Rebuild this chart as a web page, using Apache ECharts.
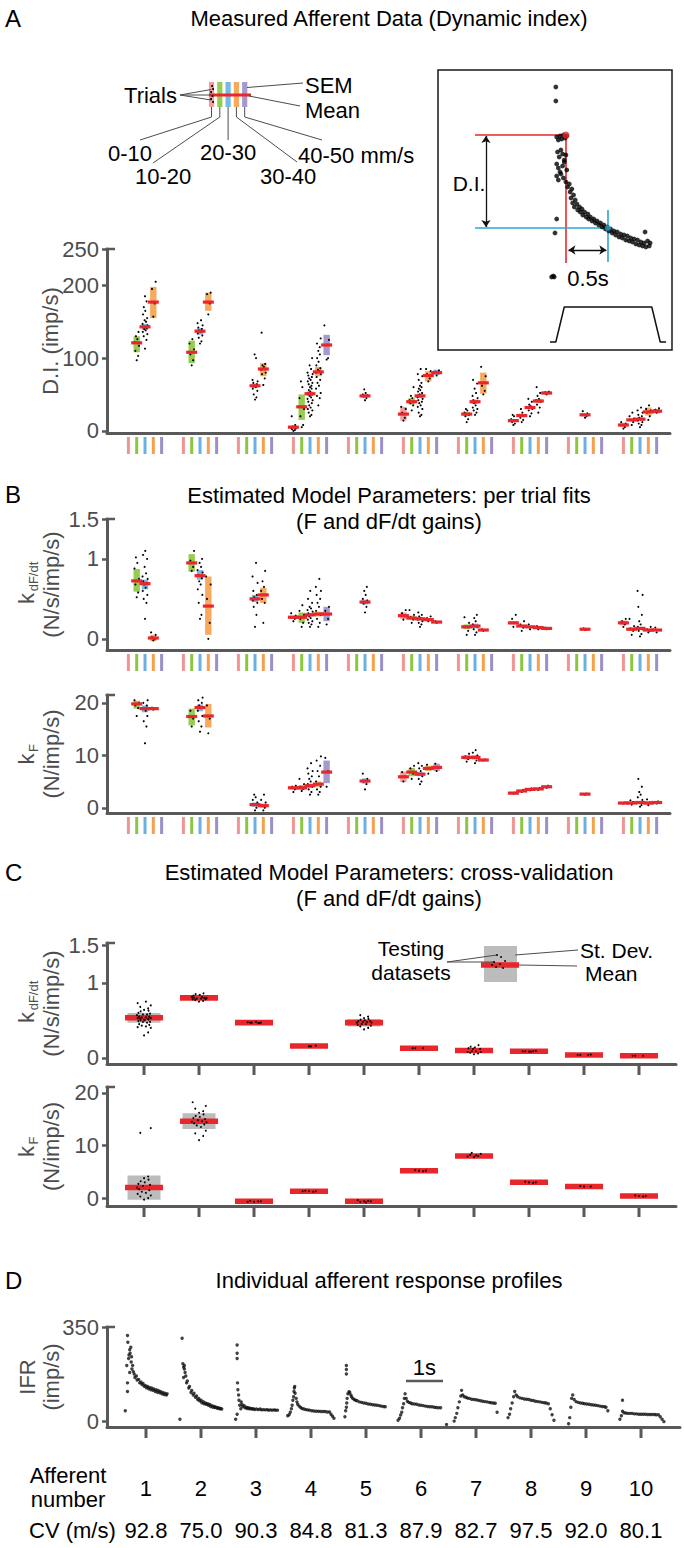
<!DOCTYPE html>
<html><head><meta charset="utf-8">
<script src="https://cdn.jsdelivr.net/npm/echarts@6/dist/echarts.min.js"></script>
<style>html,body{margin:0;padding:0;background:#fff}#c{width:684px;height:1548px}</style>
</head><body><div id="c"></div>
<script>
// ======================= DATA =======================
const afferents = [1,2,3,4,5,6,7,8,9,10];
const speedBins = ['0-10','10-20','20-30','30-40','40-50 mm/s'];
const cvValues = ['92.8','75.0','90.3','84.8','81.3','87.9','82.7','97.5','92.0','80.1'];

// Panel A – dynamic index: [afferent, speed bin, mean, SEM low, SEM high]
const diStats = [
 [1,1,121,108,130],[1,2,143,139,147],[1,3,177,155,198],
 [2,1,108,93,124],[2,2,137,132,141],[2,3,177,165,190],
 [3,2,62,59,65],[3,3,85,75,93],
 [4,0,5,3,7],[4,1,33,15,50],[4,2,51,48,54],[4,3,81,75,88],[4,4,118,104,132],
 [5,2,48,46,50],
 [6,0,23,14,33],[6,1,40,36,45],[6,2,48,45,51],[6,3,76,68,82],[6,4,80,77,84],
 [7,1,23,20,26],[7,2,40,37,43],[7,3,66,51,80],
 [8,0,14,12,16],[8,1,21,19,23],[8,2,32,30,34],[8,3,41,38,44],[8,4,52,50,54],
 [9,2,22,20,24],
 [10,0,8,5,11],[10,1,15,13,17],[10,2,16,14,18],[10,3,26,21,32],[10,4,27,24,30]
];
const diTrials = [
 [97,103,110,117,122,126,130,136],
 [113,125,130,133,136,138,140,141,143,145,147,150,152,155,160,165,170,178,185],
 [157,175,195,205],
 [90,97,105,112,120,126],
 [120,123,128,131,134,136,138,140,142,145,148,152],
 [160,175,188,190],
 [43,46,50,55,58,60,62,64,66,68,70,100,105],
 [63,72,78,80,84,88,90,92,135],
 [0,1,2,3,4,5,6,8,20],
 [5,8,20,30,45,60,68],
 [20,22,25,28,30,32,35,38,40,42,44,46,48,50,52,54,56,58,60,62,64,66,68,70,72,74,76,78,80,85,90,100],
 [35,45,48,52,58,62,66,70,74,78,80,82,84,86,90,95,100,105,110,115,120,127],
 [98,100,118,125,145],
 [42,45,47,49,50,52,57],
 [14,18,25,30,33],
 [28,35,38,40,42,45,48,60],
 [20,22,25,30,33,35,38,40,42,44,46,48,50,52,54,56,58,60,62,66,70,75,78,85],
 [68,72,78,82,85],
 [76,79,81,83],
 [12,16,20,22,25,28,30],
 [22,25,28,30,32,35,38,40,42,45,48,52,58,65,70],
 [50,55,62,75,88],
 [8,10,12,14,16,20,22],
 [12,15,18,20,22,25,30],
 [20,24,28,30,32,34,36,40,44],
 [25,32,36,40,42,44,48,52,60],
 [50,52,53,54],
 [18,20,22,24,27],
 [3,5,8,10,12],
 [8,12,15,17,20,25],
 [5,8,10,12,14,16,18,20,22,25,28,32],
 [15,20,25,28,30,35],
 [25,27,29,31]
];

// Panel B (top) – k dF/dt per-trial fits
const kdStats = [
 [1,1,0.725,0.59,0.875],[1,2,0.69,0.62,0.74],[1,3,0.01,-0.03,0.05],
 [2,1,0.95,0.84,1.06],[2,2,0.79,0.74,0.86],[2,3,0.41,0.05,0.78],
 [3,2,0.50,0.46,0.55],[3,3,0.55,0.45,0.64],
 [4,0,0.27,0.25,0.29],[4,1,0.27,0.20,0.33],[4,2,0.30,0.28,0.32],[4,3,0.31,0.28,0.34],[4,4,0.31,0.22,0.40],
 [5,2,0.46,0.43,0.49],
 [6,0,0.29,0.25,0.33],[6,1,0.26,0.24,0.29],[6,2,0.25,0.23,0.27],[6,3,0.24,0.23,0.25],[6,4,0.21,0.20,0.22],
 [7,1,0.15,0.12,0.18],[7,2,0.16,0.13,0.19],[7,3,0.11,0.10,0.12],
 [8,0,0.20,0.18,0.22],[8,1,0.16,0.15,0.17],[8,2,0.15,0.14,0.16],[8,3,0.14,0.13,0.15],[8,4,0.13,0.12,0.14],
 [9,2,0.12,0.11,0.13],
 [10,0,0.20,0.17,0.23],[10,1,0.12,0.10,0.14],[10,2,0.13,0.11,0.15],[10,3,0.11,0.10,0.12],[10,4,0.11,0.10,0.12]
];
const kdTrials = [
 [0.52,0.58,0.68,0.75,0.88,0.95,1.02],
 [0.25,0.45,0.5,0.55,0.6,0.64,0.68,0.7,0.72,0.75,0.78,0.82,0.9,1.0,1.05,1.1],
 [-0.02,0.0,0.02,0.05,0.08],
 [0.85,0.9,0.98,1.1],
 [0.25,0.3,0.45,0.55,0.62,0.68,0.72,0.76,0.8,0.83,0.86,0.9,0.95,1.0],
 [0.0,0.2,0.5,0.68,0.78],
 [0.15,0.3,0.4,0.45,0.48,0.5,0.52,0.55,0.6,0.7,0.78,0.95],
 [0.2,0.45,0.5,0.55,0.6,0.65,0.72,0.85],
 [0.22,0.25,0.27,0.29,0.32],
 [0.15,0.2,0.25,0.3,0.35,0.42],
 [0.15,0.18,0.2,0.22,0.24,0.26,0.28,0.3,0.32,0.34,0.36,0.38,0.4,0.45,0.5,0.6],
 [0.15,0.2,0.25,0.3,0.35,0.4,0.45,0.5,0.55,0.6,0.65,0.75],
 [0.18,0.25,0.35,0.4],
 [0.33,0.4,0.44,0.48,0.5,0.55,0.6,0.65],
 [0.24,0.28,0.32,0.36],
 [0.2,0.24,0.27,0.3,0.36],
 [0.15,0.18,0.2,0.22,0.24,0.26,0.28,0.3,0.33],
 [0.22,0.24,0.26,0.28],
 [0.2,0.21,0.22],
 [0.05,0.1,0.15,0.2,0.27],
 [0.05,0.08,0.12,0.15,0.18,0.22,0.26,0.3],
 [0.1,0.11,0.12],
 [0.15,0.2,0.25,0.3],
 [0.1,0.14,0.18,0.22],
 [0.12,0.15,0.18],
 [0.12,0.14,0.16],
 [0.12,0.13,0.14],
 [0.11,0.12,0.13],
 [0.15,0.18,0.22,0.25],
 [0.05,0.1,0.13,0.16,0.25],
 [0.03,0.06,0.1,0.12,0.15,0.18,0.22,0.3,0.4,0.55,0.6],
 [0.08,0.1,0.12,0.15],
 [0.08,0.11,0.14]
];

// Panel B (bottom) – k F per-trial fits
const kfStats = [
 [1,1,19.8,18.9,20.4],[1,2,18.9,18.2,19.5],[1,3,18.9,18.8,19.0],
 [2,1,17.4,15.7,18.9],[2,2,19.1,18.4,19.7],[2,3,17.5,15.3,19.8],
 [3,2,0.6,0.2,1.0],[3,3,0.4,0.0,0.8],
 [4,0,3.8,3.5,4.1],[4,1,3.8,3.4,4.3],[4,2,4.2,3.8,4.6],[4,3,4.5,4.0,5.0],[4,4,6.8,4.7,9.0],
 [5,2,5.1,4.6,5.6],
 [6,0,5.9,4.9,6.9],[6,1,6.8,6.0,7.6],[6,2,6.4,6.0,6.8],[6,3,7.5,7.0,8.0],[6,4,7.7,7.0,8.4],
 [7,1,9.6,9.2,10.0],[7,2,9.6,9.2,10.0],[7,3,9.1,9.0,9.2],
 [8,0,2.8,2.7,2.9],[8,1,3.2,3.1,3.3],[8,2,3.5,3.4,3.6],[8,3,3.6,3.5,3.7],[8,4,4.0,3.9,4.1],
 [9,2,2.6,2.5,2.7],
 [10,0,0.9,0.8,1.0],[10,1,0.9,0.7,1.1],[10,2,1.0,0.7,1.3],[10,3,0.9,0.6,1.2],[10,4,1.0,0.8,1.2]
];
const kfTrials = [
 [17.5,19,19.5,20,20.5],
 [12.3,15.5,16.5,17.5,18,18.5,19,19.5,20,20.5],
 [18.7,18.9,19.1],
 [15.5,17,18.5],
 [14.5,15.5,16.5,17.5,18.5,19,19.5,20,20.5,21],
 [14.2,17,19.5],
 [-0.5,0,0.5,1,1.5,2,2.5],
 [-0.5,0,0.5,1,1.5,2.5],
 [3,3.5,4,4.2],
 [3.2,3.6,4,4.5,5.5],
 [2.5,3,3.5,4,4.5,5,5.5,6,6.5,7,7.5,8.5],
 [2.5,3,3.5,4,5,6,7,8,9,9.8],
 [4,7,9.5],
 [3.5,4.5,5,5.5,6.5],
 [5,6,6.8],
 [5.5,6.5,7.5,8],
 [4.5,5,5.5,6,6.5,7,7.5,8,8.5],
 [6.5,7.5,8.2],
 [7,7.7,8.4],
 [8.8,9.3,9.8,10.3],
 [8.5,9,9.5,10,10.5,11],
 [9,9.2],
 [2.7,2.9],[3,3.4],[3.3,3.7],[3.4,3.8],[3.8,4.2],
 [2.5,2.7],
 [0.8,1.0],[0.6,1.1,1.4],[0.2,0.5,1,1.5,2,2.5,3,4,5.5],[0.5,1,1.6],[0.8,1.2]
];

// Panel C – cross-validation (mean, SD, testing datasets)
const cvKdMean = [0.535,0.80,0.47,0.16,0.47,0.13,0.10,0.09,0.04,0.03];
const cvKdSd   = [0.065,0.03,0.01,0.01,0.05,0.01,0.02,0.01,0.01,0.01];
const cvKdTests = [
 [0.30,0.34,0.37,0.40,0.41,0.42,0.43,0.44,0.45,0.46,0.46,0.47,0.48,0.48,0.49,0.50,0.50,0.51,0.51,0.52,0.52,0.53,0.53,0.54,0.54,0.55,0.55,0.56,0.57,0.58,0.58,0.59,0.60,0.61,0.62,0.63,0.64,0.66,0.68,0.70,0.73,0.75],
 [0.75,0.76,0.77,0.78,0.78,0.79,0.79,0.80,0.80,0.80,0.81,0.81,0.82,0.82,0.83,0.84,0.85,0.86],
 [0.46,0.465,0.47,0.47,0.475,0.48,0.47,0.465],
 [0.155,0.16,0.16,0.165,0.16,0.155,0.16],
 [0.38,0.40,0.42,0.43,0.44,0.45,0.45,0.46,0.46,0.47,0.47,0.48,0.48,0.49,0.49,0.50,0.51,0.52,0.53,0.55,0.57],
 [0.125,0.13,0.13,0.135,0.13,0.125],
 [0.05,0.06,0.07,0.08,0.08,0.09,0.09,0.10,0.10,0.10,0.11,0.11,0.12,0.12,0.13,0.14,0.15,0.17],
 [0.085,0.09,0.09,0.095,0.09,0.085],
 [0.035,0.04,0.04,0.045,0.04,0.035],
 [0.025,0.03,0.03,0.035,0.03,0.025]
];
const cvKfMean = [2.0,14.6,-0.6,1.3,-0.6,5.2,8.0,3.0,2.2,0.4];
const cvKfSd   = [2.3,1.5,0.1,0.1,0.1,0.1,0.2,0.1,0.1,0.1];
const cvKfTests = [
 [-0.3,0.0,0.3,0.5,0.8,1.0,1.2,1.5,1.7,1.9,2.0,2.1,2.3,2.5,2.7,3.0,3.2,3.5,3.8,4.1,12.4,13.3],
 [11.0,11.8,12.3,12.8,13.2,13.5,13.8,14.0,14.2,14.4,14.5,14.6,14.8,15.0,15.2,15.4,15.6,15.9,16.2,16.5,17.0,17.5,18.2],
 [-0.7,-0.6,-0.5,-0.6,-0.7],
 [1.3,1.2,1.4,1.3,1.3],
 [-0.6,-0.5,-0.7,-0.6,-0.4,-0.8],
 [5.2,5.1,5.3,5.2],
 [7.8,8.0,8.2,8.4,7.9,8.1,8.6],
 [3.0,2.9,3.1,3.0],
 [2.2,2.1,2.3,2.2],
 [0.4,0.3,0.5,0.4]
];

// Panel D – IFR profiles: [time (s) relative to afferent slot centre, IFR (imp/s)]
const ifrProfiles = [
 [[-0.56,39],[-0.50,111],[-0.50,143],[-0.50,320],[-0.49,295],[-0.52,208],[-0.47,234],[-0.44,267],[-0.41,276],[-0.46,247],[-0.40,221],[-0.38,195],[-0.44,182],[-0.43,254],[-0.39,241],[-0.36,208],[-0.34,185],[-0.32,176],[-0.30,163],[-0.26,169],[-0.24,154],[-0.20,156],[-0.17,143],[-0.14,146],[-0.11,137],[-0.08,141],[-0.05,130],[-0.02,133],[0.01,125],[0.04,130],[0.07,121],[0.09,126],[0.13,117],[0.15,124],[0.19,115],[0.21,120],[0.25,111],[0.27,117],[0.31,108],[0.33,115],[0.37,106],[0.39,111],[0.43,102],[0.45,107],[0.49,99],[0.51,104],[0.55,98],[0.57,102]],
 [[-0.57,7],[-0.51,310],[-0.49,215],[-0.47,202],[-0.45,195],[-0.45,208],[-0.43,182],[-0.47,163],[-0.39,143],[-0.41,169],[-0.37,150],[-0.33,124],[-0.31,130],[-0.27,107],[-0.25,115],[-0.21,98],[-0.19,104],[-0.15,89],[-0.12,94],[-0.09,81],[-0.06,85],[-0.04,76],[0.00,78],[0.02,69],[0.06,73],[0.08,65],[0.12,68],[0.14,63],[0.18,65],[0.20,59],[0.24,62],[0.26,55],[0.30,58],[0.32,52],[0.36,55],[0.38,51],[0.41,52],[0.44,48],[0.47,50],[0.50,46],[0.53,47],[0.56,45]],
 [[-0.55,7],[-0.51,285],[-0.51,254],[-0.51,234],[-0.50,143],[-0.49,117],[-0.47,98],[-0.46,78],[-0.44,59],[-0.41,46],[-0.51,26],[-0.40,72],[-0.38,63],[-0.36,55],[-0.32,58],[-0.30,50],[-0.26,52],[-0.24,47],[-0.20,50],[-0.18,46],[-0.14,47],[-0.11,45],[-0.07,46],[-0.04,43],[0.01,45],[0.06,43],[0.11,45],[0.15,42],[0.20,43],[0.25,42],[0.30,43],[0.34,41],[0.39,42],[0.44,41],[0.49,42],[0.53,41],[0.58,41]],
 [[-0.63,20],[-0.59,24],[-0.56,33],[-0.53,46],[-0.51,59],[-0.49,78],[-0.47,91],[-0.46,111],[-0.45,124],[-0.44,130],[-0.43,104],[-0.40,85],[-0.38,72],[-0.36,63],[-0.32,56],[-0.28,51],[-0.24,47],[-0.19,45],[-0.14,43],[-0.09,42],[-0.04,41],[0.02,39],[0.08,38],[0.14,37],[0.20,37],[0.26,36],[0.32,36],[0.38,36],[0.44,34],[0.50,34],[0.54,26],[0.58,18],[0.62,11]],
 [[-0.57,16],[-0.53,208],[-0.53,193],[-0.53,176],[-0.55,39],[-0.53,52],[-0.52,68],[-0.51,85],[-0.49,102],[-0.46,110],[-0.44,107],[-0.41,98],[-0.39,91],[-0.36,85],[-0.32,81],[-0.28,78],[-0.24,76],[-0.18,72],[-0.12,70],[-0.06,68],[0.00,67],[0.06,64],[0.12,63],[0.18,61],[0.24,60],[0.30,59],[0.36,58],[0.41,56],[0.47,55],[0.52,54]],
 [[-0.62,3],[-0.58,11],[-0.55,23],[-0.52,33],[-0.50,50],[-0.47,65],[-0.45,85],[-0.43,102],[-0.40,85],[-0.37,74],[-0.33,70],[-0.28,68],[-0.24,65],[-0.18,64],[-0.12,63],[-0.06,60],[0.00,59],[0.06,58],[0.12,56],[0.18,55],[0.24,54],[0.30,54],[0.36,52],[0.41,51],[0.47,50],[0.53,50],[0.69,-13]],
 [[-0.59,0],[-0.56,13],[-0.52,29],[-0.49,50],[-0.45,72],[-0.41,94],[-0.39,115],[-0.36,98],[-0.32,91],[-0.27,89],[-0.23,86],[-0.18,85],[-0.12,82],[-0.06,81],[0.00,80],[0.06,78],[0.12,76],[0.18,74],[0.24,73],[0.30,72],[0.36,70],[0.41,69],[0.47,68],[0.52,67],[0.57,33]],
 [[-0.62,13],[-0.58,26],[-0.55,46],[-0.51,68],[-0.47,91],[-0.44,111],[-0.40,98],[-0.36,91],[-0.30,87],[-0.24,85],[-0.18,83],[-0.12,82],[-0.06,81],[0.00,78],[0.06,77],[0.12,74],[0.18,73],[0.24,72],[0.30,70],[0.36,69],[0.41,68],[0.47,65],[0.52,46],[0.57,24],[0.62,3]],
 [[-0.47,-10],[-0.44,13],[-0.41,52],[-0.39,85],[-0.36,98],[-0.32,81],[-0.27,73],[-0.21,70],[-0.15,68],[-0.09,67],[-0.04,65],[0.02,64],[0.08,63],[0.14,61],[0.20,60],[0.26,59],[0.32,58],[0.38,56],[0.44,55],[0.50,54],[0.54,52],[0.59,39]],
 [[-0.57,7],[-0.53,20],[-0.50,78],[-0.50,37],[-0.46,31],[-0.41,30],[-0.36,29],[-0.30,29],[-0.24,29],[-0.18,27],[-0.12,27],[-0.06,26],[0.00,26],[0.06,26],[0.12,26],[0.18,25],[0.24,25],[0.30,25],[0.36,25],[0.41,24],[0.47,24],[0.52,16],[0.57,7],[0.62,-2]]
];

// Inset (panel A) – example response: [time from ramp end (s), IFR]
const insetTrace = [
 [-0.12,263],[-0.12,249],
 [-0.11,213],[-0.09,210],[-0.07,214],[-0.05,211],[-0.03,215],[-0.01,212],[0.01,214],
 [-0.10,198],[-0.08,193],[-0.06,200],[-0.04,196],[-0.02,190],[0.00,195],
 [-0.11,186],[-0.09,182],[-0.07,178],[-0.04,184],[-0.02,188],[0.01,180],
 [-0.11,174],[-0.09,170],[-0.06,176],[-0.03,172],[0.00,168],[0.02,163],
 [0.04,166],[0.05,158],[0.06,152],[0.07,161],[0.08,147],[0.09,155],[0.10,143],[0.11,150],[0.13,146],[0.14,140],[0.16,143],[0.17,138],[0.19,141],[0.20,135],[0.22,138],[0.24,133],[0.26,136],[0.27,131],[0.29,133],[0.31,129],[0.33,131],[0.35,127],[0.37,129],[0.39,125],[0.41,127],[0.43,123],[0.45,125],[0.47,121],[0.49,123],[0.51,119],[0.53,121],[0.55,117],[0.57,119],[0.59,115],[0.61,118],[0.63,113],[0.65,116],[0.67,112],[0.69,115],[0.71,110],[0.73,114],[0.75,109],[0.77,112],[0.79,108],[0.81,111],[0.83,106],[0.85,110],[0.87,105],[0.89,108],[0.91,104],[0.93,107],[0.95,103],[0.97,109],[0.99,104],[1.00,107],[0.94,118],
 [-0.11,131],[-0.13,117],[-0.17,73],[-0.15,74],[-0.14,73]
];
const insetStimulus = [[-0.19,8],[-0.12,8],[-0.02,43],[1.02,43],[1.12,8],[1.19,8]];
const insetPeak = 215;      // IFR at ramp end (red)
const insetPlateau = 122;   // IFR 0.5 s later (blue)
const insetDelay = 0.5;     // s

// ======================= STYLE / LAYOUT =======================
const FONT = '"Liberation Sans", Arial, Helvetica, sans-serif';
const FS = 22;
const BIN_COLORS = ['#f19494','#8cc63f','#6cb0e2','#f6a04d','#9c8fc8'];
const MEAN_RED = '#e8262b';
const AXIS_GRAY = '#595959';
const TEXT_GRAY = '#4d4d4d';
const SD_GRAY = '#bcbcbc';
const BIN_STEP = 0.151;           // spacing of speed bins (afferent units)
const SEC = 37 / 55;              // afferent units per second in panel D
const JITTER = [0,0.55,-0.5,0.9,-0.85,0.25,-0.3,0.7,-0.65,1,-0.95,0.4,-0.15,0.8,-0.75,0.1,-0.45,0.6];
const TITLE_X = 389;

const G = {
 inset:{left:438, top:70, width:234, height:280, xMin:-1.52, xMax:1.26, yMin:0, yMax:280, ticks:[]},
 A:  {left:107, top:249, width:563, height:184, xMin:0.309, xMax:10.545, yMin:-3, yMax:250, ticks:[0,100,200,250]},
 B1: {left:107, top:519, width:563, height:131, xMin:0.309, xMax:10.545, yMin:-0.14, yMax:1.5, ticks:[0,1,1.5]},
 B2: {left:107, top:695, width:563, height:118, xMin:0.309, xMax:10.545, yMin:-1, yMax:21.5, ticks:[0,10,20]},
 C1: {left:107, top:943, width:569, height:121, xMin:0.327, xMax:10.673, yMin:-0.08, yMax:1.53, ticks:[0,1,1.5]},
 C2: {left:107, top:1087, width:569, height:119, xMin:0.327, xMax:10.673, yMin:-1.5, yMax:21.1, ticks:[0,10,20]},
 D:  {left:107, top:1327, width:573, height:100, xMin:0.291, xMax:10.709, yMin:-22, yMax:352, ticks:[0,350]}
};
const ORDER = ['inset','A','B1','B2','C1','C2','D'];
const gi = k => ORDER.indexOf(k);

const binX = (a, b) => a + (b - 2) * BIN_STEP;

// ======================= SERIES BUILDERS =======================
function perTrialSeries(key, stats, trials) {
 const idx = gi(key), g = G[key];
 const tickData = [];
 afferents.forEach(a => [0,1,2,3,4].forEach(b => tickData.push([a, b])));
 const trialData = [];
 stats.forEach((s, i) => trials[i].forEach((v, j) => trialData.push([s[0], s[1], v, j])));
 const base = {type:'custom', xAxisIndex:idx, yAxisIndex:idx, clip:false, silent:true, animation:false};
 return [
  Object.assign({}, base, {data:tickData, renderItem:(p, api) => {
   const a = api.value(0), b = api.value(1);
   const c = api.coord([binX(a, b), g.yMin]);
   return {type:'line', shape:{x1:c[0], y1:c[1]+4, x2:c[0], y2:c[1]+21}, style:{stroke:BIN_COLORS[b], lineWidth:3}};
  }}),
  Object.assign({}, base, {data:stats, renderItem:(p, api) => {
   const x = binX(api.value(0), api.value(1)), b = api.value(1);
   const t = api.coord([x, api.value(4)]), bt = api.coord([x, api.value(3)]);
   return {type:'rect', shape:{x:t[0]-3.2, y:t[1], width:6.4, height:Math.max(bt[1]-t[1], 1)}, style:{fill:BIN_COLORS[b], opacity:0.9}};
  }}),
  Object.assign({}, base, {data:trialData, renderItem:(p, api) => {
   const c = api.coord([binX(api.value(0), api.value(1)), api.value(2)]);
   const j = JITTER[api.value(3) % JITTER.length] * 2.6;
   return {type:'circle', shape:{cx:c[0]+j, cy:c[1], r:1.05}, style:{fill:'#000'}};
  }}),
  Object.assign({}, base, {data:stats, renderItem:(p, api) => {
   const c = api.coord([binX(api.value(0), api.value(1)), api.value(2)]);
   return {type:'rect', shape:{x:c[0]-5.5, y:c[1]-1.6, width:11, height:3.2}, style:{fill:MEAN_RED}};
  }})
 ];
}

function tickSeries(key) {
 const idx = gi(key), g = G[key];
 return {type:'custom', xAxisIndex:idx, yAxisIndex:idx, clip:false, silent:true,
  data:afferents.map(a => [a, 0]),
  renderItem:(p, api) => {
   const c = api.coord([api.value(0), g.yMin]);
   return {type:'line', shape:{x1:c[0], y1:c[1], x2:c[0], y2:c[1]+11}, style:{stroke:AXIS_GRAY, lineWidth:3}};
  }};
}

function cvSeries(key, means, sds, tests) {
 const idx = gi(key);
 const base = {type:'custom', xAxisIndex:idx, yAxisIndex:idx, clip:false, silent:true};
 const stat = afferents.map((a, i) => [a, means[i], sds[i]]);
 const dots = [];
 tests.forEach((arr, i) => arr.forEach((v, j) => dots.push([afferents[i], v, j])));
 return [
  tickSeries(key),
  Object.assign({}, base, {data:stat, renderItem:(p, api) => {
   const a = api.value(0), m = api.value(1), s = api.value(2);
   const t = api.coord([a, m + s]), b = api.coord([a, m - s]);
   return {type:'rect', shape:{x:t[0]-16.5, y:t[1], width:33, height:b[1]-t[1]}, style:{fill:SD_GRAY}};
  }}),
  Object.assign({}, base, {data:stat, renderItem:(p, api) => {
   const c = api.coord([api.value(0), api.value(1)]);
   return {type:'rect', shape:{x:c[0]-19, y:c[1]-2.8, width:38, height:5.6}, style:{fill:MEAN_RED}};
  }}),
  Object.assign({}, base, {data:dots, renderItem:(p, api) => {
   const c = api.coord([api.value(0), api.value(1)]);
   const j = JITTER[api.value(2) % JITTER.length] * 7.5;
   return {type:'circle', shape:{cx:c[0]+j, cy:c[1], r:0.95}, style:{fill:'#000'}};
  }})
 ];
}

// ======================= AXES =======================
const grid = ORDER.map(k => {
 const g = G[k];
 const o = {left:g.left, top:g.top, width:g.width, height:g.height, containLabel:false};
 if (k === 'inset') Object.assign(o, {show:true, borderColor:'#1a1a1a', borderWidth:1.5, backgroundColor:'transparent'});
 return o;
});
const xAxis = ORDER.map((k, i) => ({
 gridIndex:i, type:'value', min:G[k].xMin, max:G[k].xMax,
 axisLine:{show:k !== 'inset', onZero:false, lineStyle:{color:AXIS_GRAY, width:3}},
 axisTick:{show:false}, axisLabel:{show:false}, splitLine:{show:false}
}));
const yAxis = ORDER.map((k, i) => ({
 gridIndex:i, type:'value', min:G[k].yMin, max:G[k].yMax,
 axisLine:{show:k !== 'inset', onZero:false, lineStyle:{color:AXIS_GRAY, width:3}},
 axisTick:{show:k !== 'inset', inside:false, length:5, customValues:G[k].ticks, lineStyle:{color:AXIS_GRAY, width:2.5}},
 axisLabel:{show:k !== 'inset', customValues:G[k].ticks, fontSize:FS, color:TEXT_GRAY, fontFamily:FONT, margin:8},
 splitLine:{show:false}
}));

// ======================= SERIES =======================
const series = [];
const iI = gi('inset');
series.push({type:'scatter', xAxisIndex:iI, yAxisIndex:iI, data:insetTrace, symbolSize:4.8, itemStyle:{color:'#000'}, silent:true});
series.push({type:'line', xAxisIndex:iI, yAxisIndex:iI, data:insetStimulus, showSymbol:false, lineStyle:{color:'#111', width:1.5}, silent:true});
series.push({type:'lines', coordinateSystem:'cartesian2d', xAxisIndex:iI, yAxisIndex:iI, silent:true,
 symbol:['none','none'], lineStyle:{color:MEAN_RED, width:1.6, opacity:1},
 data:[{coords:[[-1.08, insetPeak],[0, insetPeak]]},{coords:[[0, insetPeak],[0, 87]]}]});
series.push({type:'lines', coordinateSystem:'cartesian2d', xAxisIndex:iI, yAxisIndex:iI, silent:true,
 symbol:['none','none'], lineStyle:{color:'#2aa7d2', width:1.6, opacity:1},
 data:[{coords:[[-1.08, insetPlateau],[insetDelay, insetPlateau]]},{coords:[[insetDelay, 140],[insetDelay, 88]]}]});
series.push({type:'lines', coordinateSystem:'cartesian2d', xAxisIndex:iI, yAxisIndex:iI, silent:true,
 symbol:['arrow','arrow'], symbolSize:7, lineStyle:{color:'#111', width:1.3, opacity:1},
 data:[{coords:[[-0.95, insetPlateau+1],[-0.95, insetPeak-1]]},{coords:[[0.03, 100],[insetDelay-0.02, 100]]}]});
series.push({type:'scatter', xAxisIndex:iI, yAxisIndex:iI, data:[[0, insetPeak]], symbolSize:7, itemStyle:{color:MEAN_RED}, silent:true});
series.push({type:'scatter', xAxisIndex:iI, yAxisIndex:iI, data:[[insetDelay, insetPlateau]], symbolSize:6, itemStyle:{color:'#2aa7d2'}, silent:true});

series.push(...perTrialSeries('A', diStats, diTrials));
series.push(...perTrialSeries('B1', kdStats, kdTrials));
series.push(...perTrialSeries('B2', kfStats, kfTrials));
series.push(...cvSeries('C1', cvKdMean, cvKdSd, cvKdTests));
series.push(...cvSeries('C2', cvKfMean, cvKfSd, cvKfTests));

const iD = gi('D');
series.push(tickSeries('D'));
const dPoints = [];
afferents.forEach((a, i) => ifrProfiles[i].forEach(([t, v]) => dPoints.push([a + t * SEC, v])));
series.push({type:'scatter', xAxisIndex:iD, yAxisIndex:iD, data:dPoints, symbolSize:3.4, itemStyle:{color:'#111'}, silent:true});
// 1 s scale bar
series.push({type:'custom', xAxisIndex:iD, yAxisIndex:iD, clip:false, silent:true, data:[[5.727, 150]],
 renderItem:(p, api) => {
  const a = api.coord([api.value(0), api.value(1)]), b = api.coord([api.value(0) + SEC, api.value(1)]);
  return {type:'group', children:[
   {type:'line', shape:{x1:a[0], y1:a[1], x2:b[0], y2:b[1]}, style:{stroke:AXIS_GRAY, lineWidth:2.5}},
   {type:'text', style:{text:'1s', x:(a[0]+b[0])/2, y:a[1]-14, fill:'#000', fontSize:FS, fontFamily:FONT, align:'center', verticalAlign:'middle', textAlign:'center', textVerticalAlign:'middle'}}
  ]};
 }});
// afferent numbers and conduction velocities
series.push({type:'custom', xAxisIndex:iD, yAxisIndex:iD, clip:false, silent:true, data:afferents.map(a => [a, 0]),
 renderItem:(p, api) => {
  const c = api.coord([api.value(0), G.D.yMin]);
  const st = (text, y) => ({type:'text', style:{text, x:c[0], y, fill:'#000', fontSize:FS, fontFamily:FONT, align:'center', verticalAlign:'middle', textAlign:'center', textVerticalAlign:'middle'}});
  return {type:'group', children:[st(String(afferents[p.dataIndex]), c[1]+61), st(cvValues[p.dataIndex], c[1]+103)]};
 }});

// ======================= GRAPHIC (text + schematic legends) =======================
const gfx = [];
function T(x, y, text, o) {
 o = o || {};
 const al = o.align || 'center', va = o.va || 'middle';
 return {type:'text', x, y, rotation:o.rot || 0, silent:true, z:10,
  style:{text, fontSize:o.size || FS, fontFamily:FONT, fill:o.color || '#000', align:al, verticalAlign:va, textAlign:al, textVerticalAlign:va}};
}
function L(x1, y1, x2, y2, color, w) {
 return {type:'line', silent:true, z:10, shape:{x1, y1, x2, y2}, style:{stroke:color || '#333', lineWidth:w || 1}};
}
function PL(points, color, w) {
 return {type:'polyline', silent:true, z:10, shape:{points}, style:{stroke:color || '#333', lineWidth:w || 1, fill:null}};
}
// panel letters & titles
gfx.push(T(5, 18, 'A', {align:'left', size:24}));
gfx.push(T(TITLE_X, 18, 'Measured Afferent Data (Dynamic index)'));
gfx.push(T(5, 494, 'B', {align:'left', size:24}));
gfx.push(T(TITLE_X, 495, 'Estimated Model Parameters: per trial fits'));
gfx.push(T(TITLE_X, 521, '(F and dF/dt gains)'));
gfx.push(T(5, 872, 'C', {align:'left', size:24}));
gfx.push(T(TITLE_X, 872, 'Estimated Model Parameters: cross-validation'));
gfx.push(T(TITLE_X, 898, '(F and dF/dt gains)'));
gfx.push(T(5, 1280, 'D', {align:'left', size:24}));
gfx.push(T(TITLE_X, 1280, 'Individual afferent response profiles'));

// y-axis names
const R = Math.PI / 2;
function mid(k) { return G[k].top + G[k].height / 2; }
gfx.push(T(50, mid('A'), 'D.I. (imp/s)', {rot:R, color:TEXT_GRAY}));
function kName(k, sub, unit) {
 const m = mid(k);
 const long = sub.length > 1;
 gfx.push(T(26, long ? m + 14 : m + 5, 'k', {rot:R, color:TEXT_GRAY}));
 gfx.push(T(33, long ? m - 8 : m - 6, sub, {rot:R, color:TEXT_GRAY, size:13}));
 gfx.push(T(51, m, unit, {rot:R, color:TEXT_GRAY}));
}
kName('B1', 'dF/dt', '(N/s/imp/s)');
kName('B2', 'F', '(N/imp/s)');
kName('C1', 'dF/dt', '(N/s/imp/s)');
kName('C2', 'F', '(N/imp/s)');
gfx.push(T(27, mid('D'), 'IFR', {rot:R, color:TEXT_GRAY}));
gfx.push(T(51, mid('D'), '(imp/s)', {rot:R, color:TEXT_GRAY}));

// axis top caps
['A','B1','B2','C1','C2','D'].forEach(k => gfx.push(L(G[k].left - 1.5, G[k].top, G[k].left + 8, G[k].top, AXIS_GRAY, 2.5)));

// panel A schematic legend
const legX = [211.5, 219.8, 228.1, 236.4, 244.7];
legX.forEach((x, b) => gfx.push({type:'rect', silent:true, z:9, shape:{x:x-2.6, y:82, width:5.2, height:25}, style:{fill:BIN_COLORS[b], opacity:0.9}}));
[[212,86],[213,89],[211,92],[212.5,96],[211,99],[213,102]].forEach(p => gfx.push({type:'circle', silent:true, z:11, shape:{cx:p[0], cy:p[1], r:1}, style:{fill:'#000'}}));
gfx.push({type:'rect', silent:true, z:10, shape:{x:209, y:93.4, width:42, height:3.2}, style:{fill:MEAN_RED}});
gfx.push(L(180, 95, 211, 89.5, TEXT_GRAY)); gfx.push(L(180, 95, 211, 95, TEXT_GRAY)); gfx.push(L(180, 95, 211, 100, TEXT_GRAY));
gfx.push(L(303, 83, 247, 87.5, TEXT_GRAY));
gfx.push(L(300, 106, 249, 96, TEXT_GRAY));
gfx.push(PL([[legX[0],107],[legX[0],117],[140,140]], TEXT_GRAY));
gfx.push(PL([[legX[1],107],[legX[1],117],[153,163]], TEXT_GRAY));
gfx.push(PL([[legX[2],107],[legX[2],140]], TEXT_GRAY));
gfx.push(PL([[legX[3],107],[legX[3],117],[297,162]], TEXT_GRAY));
gfx.push(PL([[legX[4],107],[legX[4],117],[322,140]], TEXT_GRAY));
gfx.push(T(177, 95, 'Trials', {align:'right'}));
gfx.push(T(305, 85, 'SEM', {align:'left'}));
gfx.push(T(305, 110, 'Mean', {align:'left'}));
gfx.push(T(108, 153, speedBins[0], {align:'left'}));
gfx.push(T(135, 176, speedBins[1], {align:'left'}));
gfx.push(T(200, 152, speedBins[2], {align:'left'}));
gfx.push(T(260, 176, speedBins[3], {align:'left'}));
gfx.push(T(298, 155, speedBins[4], {align:'left'}));
// inset texts
gfx.push(T(469, 183, 'D.I.', {size:21}));
gfx.push(T(588, 278, '0.5s', {size:FS}));

// panel C schematic legend
gfx.push({type:'rect', silent:true, z:9, shape:{x:484, y:946, width:33, height:36}, style:{fill:SD_GRAY}});
gfx.push({type:'rect', silent:true, z:10, shape:{x:481, y:962.2, width:38, height:5.6}, style:{fill:MEAN_RED}});
[[497,955],[501,957],[492,965],[496,967],[500,964],[503,968],[494,962],[505,961]].forEach(p => gfx.push({type:'circle', silent:true, z:11, shape:{cx:p[0], cy:p[1], r:0.95}, style:{fill:'#000'}}));
gfx.push(L(447, 962, 497, 955, TEXT_GRAY)); gfx.push(L(447, 962, 494, 962, TEXT_GRAY));
gfx.push(L(578, 950, 515, 955, TEXT_GRAY));
gfx.push(L(577, 966, 519, 965, TEXT_GRAY));
gfx.push(T(411, 948, 'Testing', {size:21}));
gfx.push(T(411, 972, 'datasets', {size:21}));
gfx.push(T(580, 950, 'St. Dev.', {align:'left', size:21}));
gfx.push(T(585, 973, 'Mean', {align:'left', size:21}));

// panel D row headers
gfx.push(T(68, 1475, 'Afferent'));
gfx.push(T(68, 1499, 'number'));
gfx.push(T(29, 1530, 'CV (m/s)', {align:'left'}));

const option = {
 animation:false,
 backgroundColor:'#fff',
 textStyle:{fontFamily:FONT},
 grid, xAxis, yAxis, series,
 graphic:{elements:gfx}
};
const chart = echarts.init(document.getElementById('c'), null, {renderer:'svg', width:684, height:1548});
chart.setOption(option);
</script>
</body></html>
